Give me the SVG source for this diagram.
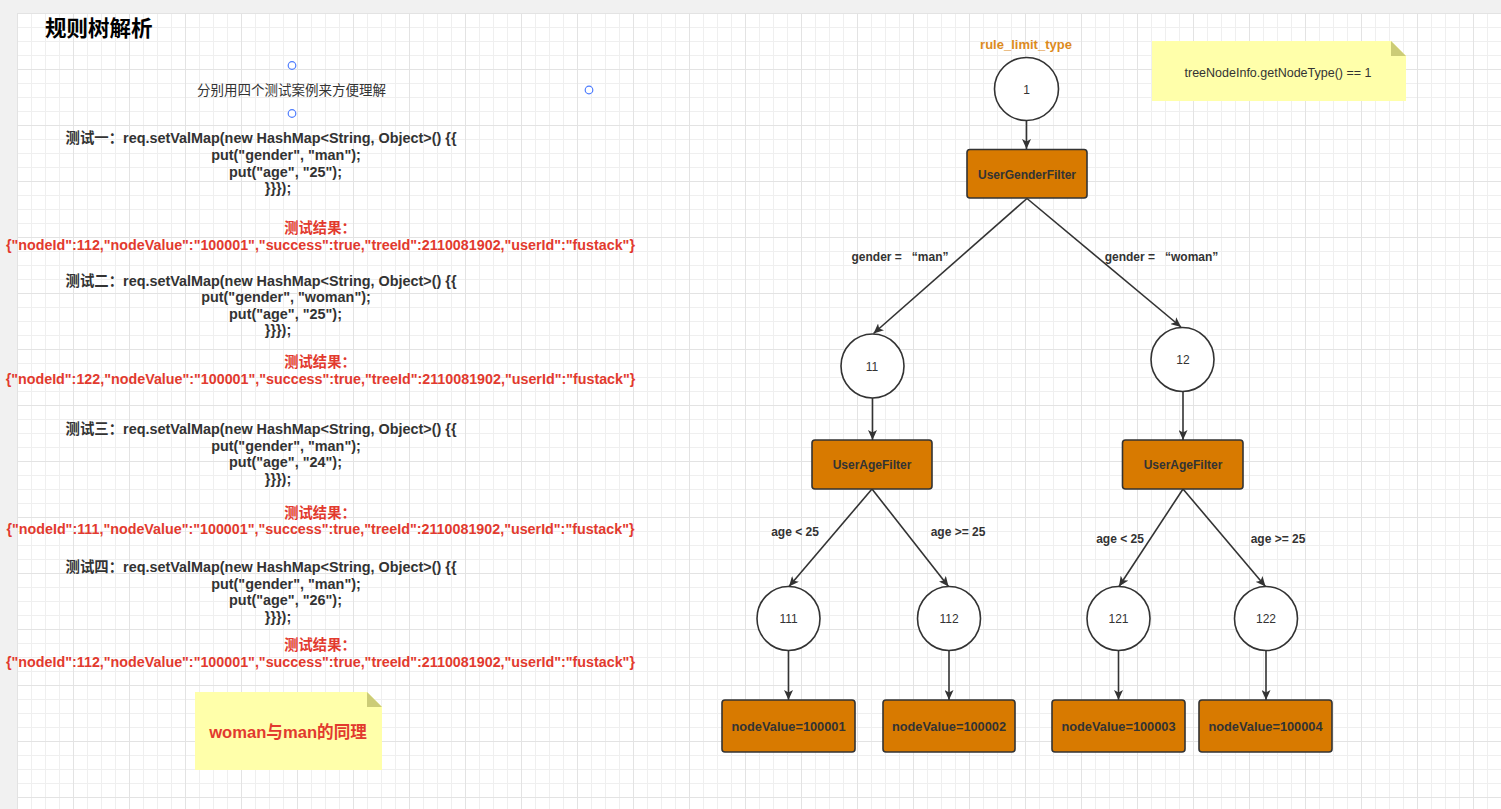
<svg xmlns="http://www.w3.org/2000/svg" width="1501" height="809" viewBox="0 0 1501 809">
<defs>
<pattern id="grid" patternUnits="userSpaceOnUse" x="17" y="13" width="56" height="56">
<path d="M14.5,0V56M28.5,0V56M42.5,0V56M0,14.5H56M0,28.5H56M0,42.5H56" stroke="#efefef" stroke-width="1" fill="none"/>
<path d="M0.5,0V56M0,0.5H56" stroke="#e3e3e3" stroke-width="1" fill="none"/>
</pattern>
<marker id="arr" markerUnits="userSpaceOnUse" markerWidth="11" markerHeight="9" refX="10" refY="4.5" orient="auto">
<path d="M0,0 L10,4.5 L0,9 L2.5,4.5 Z" fill="#333333"/>
</marker>
<style>
.t{font-family:"Liberation Sans","Noto Sans CJK SC",sans-serif;}
.test{font-size:14.4px;font-weight:bold;fill:#333333;text-anchor:middle;}
.red{font-size:14.3px;font-weight:bold;fill:#e23a2e;text-anchor:middle;}
.circ{fill:#ffffff;stroke:#333333;stroke-width:1.6;}
.box{fill:#d87a00;stroke:#333333;stroke-width:1.6;}
.lbl{font-size:12px;fill:#333333;text-anchor:middle;}
.blbl{font-size:12px;font-weight:bold;fill:#333333;text-anchor:middle;}
.vlbl{font-size:12.8px;font-weight:bold;fill:#333333;text-anchor:middle;}
.edge{stroke:#333333;stroke-width:1.6;fill:none;marker-end:url(#arr);}
.note{fill:#ffffaa;}
.fold{fill:#cccc77;}
.handle{fill:#ffffff;stroke:#4d7cfe;stroke-width:1.2;}
</style>
</defs>
<rect x="0" y="0" width="1501" height="809" fill="#f1f1f1"/>
<rect x="17" y="13" width="1484" height="796" fill="#ffffff"/>
<rect x="17" y="13" width="1484" height="796" fill="url(#grid)"/>

<g id="title">
<text class="t" x="45" y="35.5" font-size="21.5" font-weight="bold" fill="#000000">规则树解析</text>
</g>

<g id="intro">
<circle class="handle" cx="292" cy="65.5" r="3.8"/>
<circle class="handle" cx="292" cy="113.5" r="3.8"/>
<circle class="handle" cx="589" cy="90" r="3.8"/>
<text class="t" x="291.5" y="94.7" font-size="13.5" fill="#333333" text-anchor="middle">分别用四个测试案例来方便理解</text>
</g>

<g id="test1">
<text class="t test" x="261" y="143.3">测试一：req.setValMap(new HashMap&lt;String, Object&gt;() {{</text>
<text class="t test" x="286" y="160">put("gender", "man");</text>
<text class="t test" x="285.5" y="176.7">put("age", "25");</text>
<text class="t test" x="278" y="193.3">}}});</text>
<text class="t red" x="320" y="233.3">测试结果：</text>
<text class="t red" x="320.5" y="250">{"nodeId":112,"nodeValue":"100001","success":true,"treeId":2110081902,"userId":"fustack"}</text>
</g>

<g id="test2">
<text class="t test" x="261" y="285.5">测试二：req.setValMap(new HashMap&lt;String, Object&gt;() {{</text>
<text class="t test" x="286" y="302">put("gender", "woman");</text>
<text class="t test" x="285.5" y="318.5">put("age", "25");</text>
<text class="t test" x="278" y="334.8">}}});</text>
<text class="t red" x="320" y="367">测试结果：</text>
<text class="t red" x="320.5" y="383.7">{"nodeId":122,"nodeValue":"100001","success":true,"treeId":2110081902,"userId":"fustack"}</text>
</g>

<g id="test3">
<text class="t test" x="261" y="434.3">测试三：req.setValMap(new HashMap&lt;String, Object&gt;() {{</text>
<text class="t test" x="286" y="450.7">put("gender", "man");</text>
<text class="t test" x="285.5" y="467.2">put("age", "24");</text>
<text class="t test" x="278" y="483.7">}}});</text>
<text class="t red" x="320" y="517.5">测试结果：</text>
<text class="t red" x="320.5" y="534">{"nodeId":111,"nodeValue":"100001","success":true,"treeId":2110081902,"userId":"fustack"}</text>
</g>

<g id="test4">
<text class="t test" x="261" y="572">测试四：req.setValMap(new HashMap&lt;String, Object&gt;() {{</text>
<text class="t test" x="286" y="588.6">put("gender", "man");</text>
<text class="t test" x="285.5" y="605.2">put("age", "26");</text>
<text class="t test" x="278" y="621.8">}}});</text>
<text class="t red" x="320" y="650">测试结果：</text>
<text class="t red" x="320.5" y="666.6">{"nodeId":112,"nodeValue":"100001","success":true,"treeId":2110081902,"userId":"fustack"}</text>
</g>

<g id="note-woman">
<path class="note" d="M195,692 H367 L382,707 V770 H195 Z"/>
<path class="fold" d="M367,692 V707 H382 Z"/>
<text class="t" x="288" y="737.5" font-size="16.6" font-weight="bold" fill="#e23a2e" text-anchor="middle">woman与man的同理</text>
</g>

<g id="note-type">
<path class="note" d="M1152,41 H1391 L1406,56 V101 H1152 Z"/>
<path class="fold" d="M1391,41 V56 H1406 Z"/>
<text class="t" x="1278" y="76.5" font-size="12.5" fill="#333333" text-anchor="middle">treeNodeInfo.getNodeType() == 1</text>
</g>

<g id="connectors">
<line class="edge" x1="1026.5" y1="121" x2="1026.5" y2="149"/>
<line class="edge" x1="1027" y1="198.5" x2="873.5" y2="333.5"/>
<line class="edge" x1="1027" y1="198.5" x2="1181" y2="327"/>
<line class="edge" x1="872.5" y1="398" x2="872.5" y2="440"/>
<line class="edge" x1="1183" y1="391.5" x2="1183" y2="440"/>
<line class="edge" x1="872" y1="489" x2="789" y2="586.5"/>
<line class="edge" x1="872" y1="489" x2="948.5" y2="586.5"/>
<line class="edge" x1="1183" y1="489" x2="1119" y2="586.5"/>
<line class="edge" x1="1183" y1="489" x2="1265.5" y2="586.5"/>
<line class="edge" x1="788.5" y1="650.5" x2="788.5" y2="700"/>
<line class="edge" x1="949" y1="650.5" x2="949" y2="700"/>
<line class="edge" x1="1118.5" y1="650.5" x2="1118.5" y2="700"/>
<line class="edge" x1="1266" y1="650.5" x2="1266" y2="700"/>
<text class="t blbl" x="900" y="261" xml:space="preserve" style="white-space:pre">gender =   “man”</text>
<text class="t blbl" x="1161.5" y="261" xml:space="preserve" style="white-space:pre">gender =   “woman”</text>
<text class="t blbl" x="795" y="536">age &lt; 25</text>
<text class="t blbl" x="958" y="536">age &gt;= 25</text>
<text class="t blbl" x="1120" y="543.3">age &lt; 25</text>
<text class="t blbl" x="1278" y="543.3">age &gt;= 25</text>
</g>

<g id="node-1">
<text class="t" x="1026" y="48.5" font-size="13" font-weight="bold" fill="#dc8a1d" text-anchor="middle">rule_limit_type</text>
<ellipse class="circ" cx="1026.5" cy="89" rx="32" ry="31.5"/>
<text class="t lbl" x="1026.5" y="93.5">1</text>
</g>
<g id="node-gender">
<rect class="box" x="967" y="149.5" width="120" height="48.5" rx="3"/>
<text class="t blbl" x="1027" y="178.5">UserGenderFilter</text>
</g>
<g id="node-11">
<ellipse class="circ" cx="872.5" cy="366" rx="31.5" ry="32"/>
<text class="t lbl" x="872" y="370.5">11</text>
</g>
<g id="node-12">
<ellipse class="circ" cx="1182.5" cy="359.5" rx="31.5" ry="32"/>
<text class="t lbl" x="1183" y="364">12</text>
</g>
<g id="node-age-left">
<rect class="box" x="812" y="440" width="120" height="49" rx="3"/>
<text class="t blbl" x="872" y="469">UserAgeFilter</text>
</g>
<g id="node-age-right">
<rect class="box" x="1122.5" y="440" width="120.5" height="49" rx="3"/>
<text class="t blbl" x="1183" y="469">UserAgeFilter</text>
</g>
<g id="node-111">
<ellipse class="circ" cx="788.5" cy="618.5" rx="31.5" ry="32"/>
<text class="t lbl" x="788.5" y="623">111</text>
</g>
<g id="node-112">
<ellipse class="circ" cx="949" cy="618.5" rx="31.5" ry="32"/>
<text class="t lbl" x="949" y="623">112</text>
</g>
<g id="node-121">
<ellipse class="circ" cx="1118.5" cy="618.5" rx="31.5" ry="32"/>
<text class="t lbl" x="1118.5" y="623">121</text>
</g>
<g id="node-122">
<ellipse class="circ" cx="1266" cy="618.5" rx="31.5" ry="32"/>
<text class="t lbl" x="1266" y="623">122</text>
</g>
<g id="leaf-100001">
<rect class="box" x="722" y="700" width="133" height="52" rx="3"/>
<text class="t vlbl" x="788.5" y="730.5">nodeValue=100001</text>
</g>
<g id="leaf-100002">
<rect class="box" x="883" y="700" width="132" height="52" rx="3"/>
<text class="t vlbl" x="949" y="730.5">nodeValue=100002</text>
</g>
<g id="leaf-100003">
<rect class="box" x="1052" y="700" width="133" height="52" rx="3"/>
<text class="t vlbl" x="1118.5" y="730.5">nodeValue=100003</text>
</g>
<g id="leaf-100004">
<rect class="box" x="1199" y="700" width="133" height="52" rx="3"/>
<text class="t vlbl" x="1265.5" y="730.5">nodeValue=100004</text>
</g>
</svg>
